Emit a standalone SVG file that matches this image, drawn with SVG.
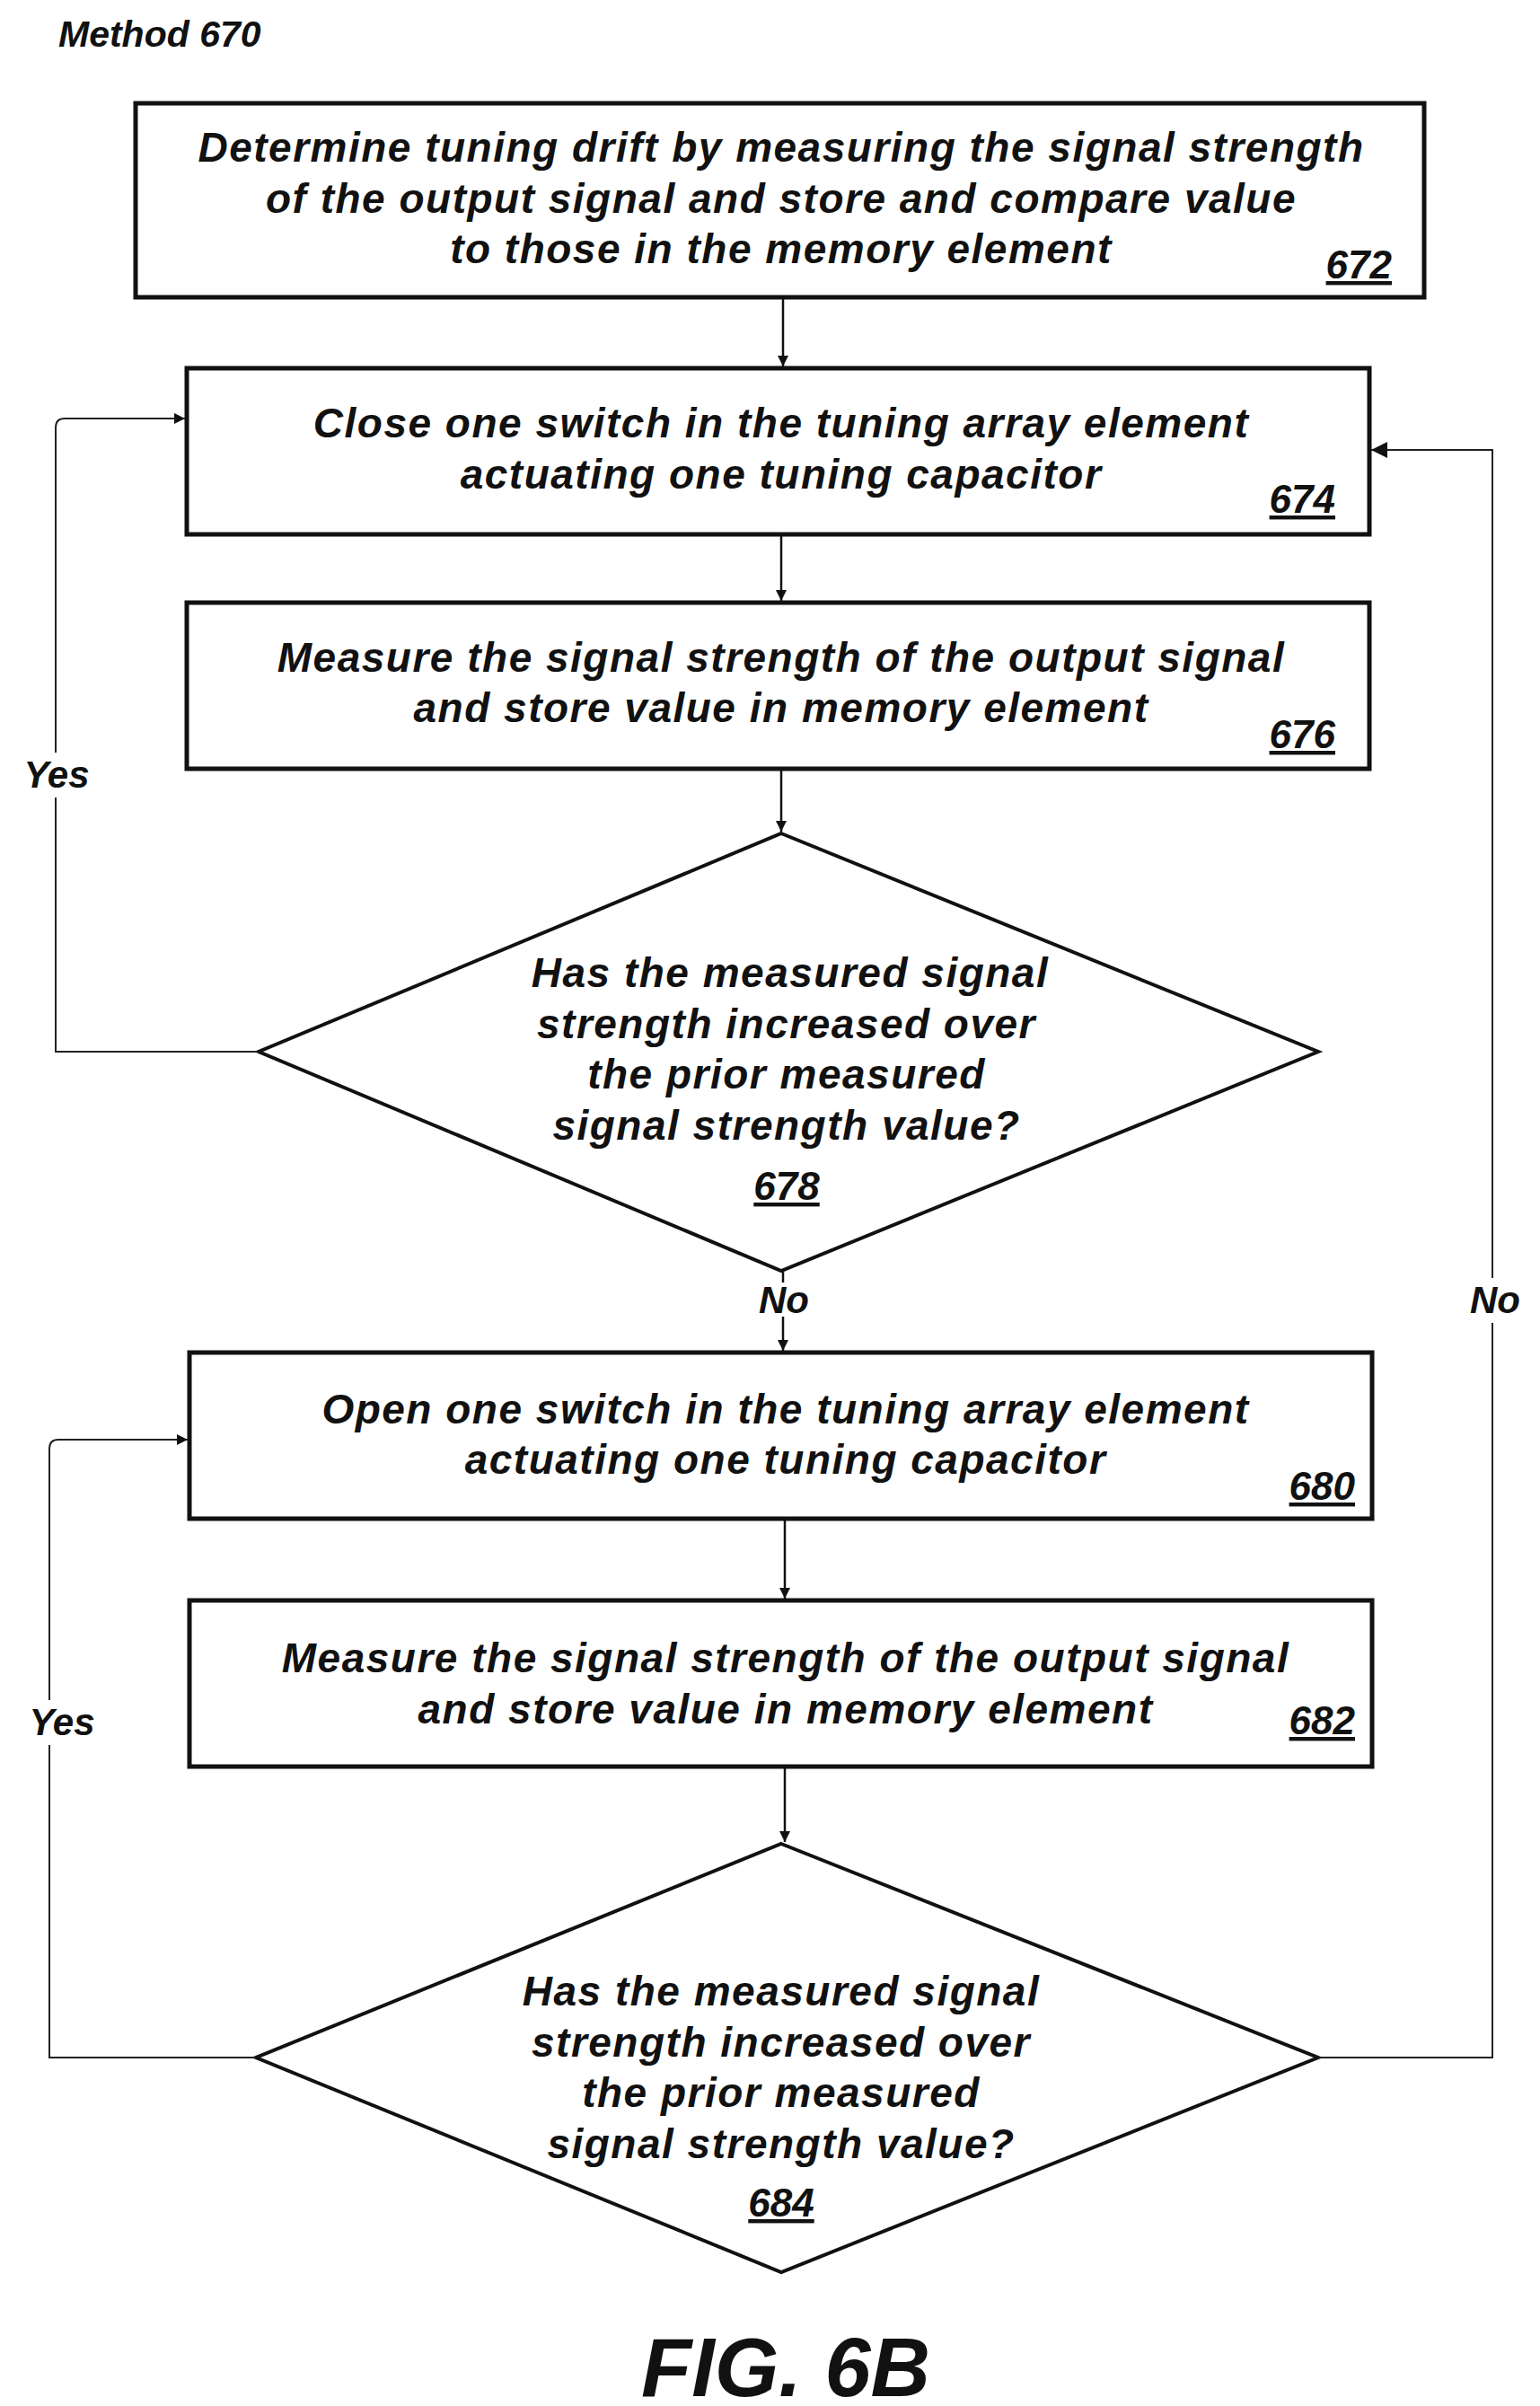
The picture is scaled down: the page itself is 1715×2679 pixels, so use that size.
<svg xmlns="http://www.w3.org/2000/svg" width="1715" height="2679" viewBox="0 0 1715 2679">
<style>
text{font-family:"Liberation Sans",Arial,sans-serif;font-weight:bold;font-style:italic;fill:#111}
.t{font-size:46px;letter-spacing:1.5px;text-anchor:middle}
.n{font-size:44px;text-decoration:underline}
.e{text-anchor:end}
.c{text-anchor:middle}
.b{fill:#fff;stroke:#111;stroke-width:5}
.l{fill:none;stroke:#111;stroke-width:2.5}
.d{fill:none;stroke:#222;stroke-width:2}
.lab{font-size:42px;text-anchor:middle}
.bg{fill:#fff}
</style>
<defs><marker id="a" viewBox="0 0 10 10" refX="10" refY="5" markerWidth="12" markerHeight="12" markerUnits="userSpaceOnUse" orient="auto"><path d="M0,0L10,5L0,10z" fill="#111"/></marker>
<marker id="A" viewBox="0 0 10 10" refX="10" refY="5" markerWidth="18" markerHeight="18" markerUnits="userSpaceOnUse" orient="auto"><path d="M0,0L10,5L0,10z" fill="#111"/></marker></defs>
<rect width="1715" height="2679" fill="#fff"/>
<text x="65" y="52" style="font-size:41px">Method 670</text>
<g id="n672"><rect class="b" x="151" y="115" width="1435" height="216"/>
<text class="t" x="870" y="180">Determine tuning drift by measuring the signal strength</text>
<text class="t" x="870" y="237">of the output signal and store and compare value</text>
<text class="t" x="870" y="293">to those in the memory element</text>
<text class="n e" x="1550" y="310">672</text></g>
<g id="n674"><rect class="b" x="208" y="410" width="1317" height="185"/>
<text class="t" x="870" y="487">Close one switch in the tuning array element</text>
<text class="t" x="870" y="544">actuating one tuning capacitor</text>
<text class="n e" x="1487" y="571">674</text></g>
<g id="n676"><rect class="b" x="208" y="671" width="1317" height="185"/>
<text class="t" x="870" y="748">Measure the signal strength of the output signal</text>
<text class="t" x="870" y="804">and store value in memory element</text>
<text class="n e" x="1487" y="833">676</text></g>
<g id="n678"><polygon class="b" points="870,928 1468,1171 870,1415 288,1171" style="stroke-width:4"/>
<text class="t" x="880" y="1099">Has the measured signal</text>
<text class="t" x="876" y="1156">strength increased over</text>
<text class="t" x="876" y="1212">the prior measured</text>
<text class="t" x="876" y="1269">signal strength value?</text>
<text class="n c" x="876" y="1336">678</text></g>
<g id="n680"><rect class="b" x="211" y="1506" width="1317" height="185"/>
<text class="t" x="875" y="1585">Open one switch in the tuning array element</text>
<text class="t" x="875" y="1641">actuating one tuning capacitor</text>
<text class="n e" x="1509" y="1670">680</text></g>
<g id="n682"><rect class="b" x="211" y="1782" width="1317" height="185"/>
<text class="t" x="875" y="1862">Measure the signal strength of the output signal</text>
<text class="t" x="875" y="1919">and store value in memory element</text>
<text class="n e" x="1509" y="1931">682</text></g>
<g id="n684"><polygon class="b" points="870,2053 1468,2291 870,2530 285,2291" style="stroke-width:4"/>
<text class="t" x="870" y="2233">Has the measured signal</text>
<text class="t" x="870" y="2290">strength increased over</text>
<text class="t" x="870" y="2346">the prior measured</text>
<text class="t" x="870" y="2403">signal strength value?</text>
<text class="n c" x="870" y="2468">684</text></g>
<g id="connectors">
<line class="l" x1="872" y1="333" x2="872" y2="408" marker-end="url(#a)"/>
<line class="l" x1="870" y1="597" x2="870" y2="669" marker-end="url(#a)"/>
<line class="l" x1="870" y1="858" x2="870" y2="926" marker-end="url(#a)"/>
<line class="l" x1="872" y1="1415" x2="872" y2="1428"/>
<line class="l" x1="872" y1="1466" x2="872" y2="1504" marker-end="url(#a)"/>
<line class="l" x1="874" y1="1693" x2="874" y2="1780" marker-end="url(#a)"/>
<line class="l" x1="874" y1="1969" x2="874" y2="2051" marker-end="url(#a)"/>
<path class="d" d="M288,1171H62V476Q62,466 72,466H206" marker-end="url(#a)"/>
<path class="d" d="M285,2291H55V1613Q55,1603 65,1603H209" marker-end="url(#a)"/>
<path class="d" d="M1468,2291H1662V501H1527" marker-end="url(#A)"/>
<rect class="bg" x="18" y="838" width="90" height="50"/>
<rect class="bg" x="24" y="1893" width="90" height="50"/>
<rect class="bg" x="1630" y="1423" width="70" height="50"/>
<text class="lab" x="63" y="877">Yes</text>
<text class="lab" x="69" y="1932">Yes</text>
<text class="lab" x="873" y="1462">No</text>
<text class="lab" x="1665" y="1462">No</text>
</g>
<text x="875" y="2668" style="font-size:92px;text-anchor:middle">FIG. 6B</text>
</svg>
